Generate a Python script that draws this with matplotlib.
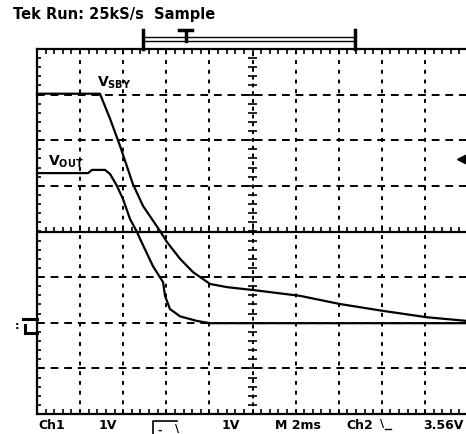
import numpy as np
import matplotlib
matplotlib.use("Agg")
import matplotlib.pyplot as plt

# scope settings (1 V/div, 2 ms/div, 10 x 8 divisions)
ms_per_div = 2.0
v_per_div = 1.0

# traces (time in ms, voltage in V relative to centre)
sby_t = [0.0, 2.92, 3.39, 3.85, 4.45, 4.92, 5.71, 6.03, 6.64, 7.24, 8.03,
         8.82, 9.98, 12.2, 14.06, 16.06, 18.1, 19.95]
sby_v = [3.02, 3.02, 2.47, 1.88, 1.04, 0.56, 0.01, -0.23, -0.60, -0.89, -1.15,
         -1.22, -1.28, -1.41, -1.59, -1.74, -1.88, -1.96]

out_t = [0.0, 2.37, 2.55, 3.16, 3.39, 3.71, 3.99, 4.32, 4.64, 4.78, 5.38,
         5.85, 5.94, 6.17, 6.64, 7.42, 8.03, 19.95]
out_v = [1.28, 1.28, 1.35, 1.35, 1.26, 1.00, 0.71, 0.27, -0.01, -0.16, -0.76,
         -1.11, -1.41, -1.70, -1.86, -1.96, -2.01, -2.01]

bottom_labels = ["Ch1", "1V", "1V", "M 2ms", "Ch2", "3.56V"]
bottom_label_x = [0.0, 2.8, 8.5, 11.0, 14.3, 17.85]

fig = plt.figure(figsize=(4.66, 4.35), dpi=100)
ax = fig.add_axes([37 / 466, 20 / 435, 431 / 466, 365 / 435])
ax.set_xlim(0, 10 * ms_per_div)
ax.set_ylim(-4 * v_per_div, 4 * v_per_div)
ax.axis("off")

k = "black"
# graticule
for i in range(1, 10):
    if i == 5:
        continue
    ax.axvline(i * ms_per_div, color=k, lw=1.4, ls=(0, (2, 3)))
for j in range(-3, 4):
    if j == 0:
        continue
    ax.axhline(j * v_per_div, color=k, lw=1.4, ls=(0, (4, 3)))

# borders and centre lines
ax.axhline(4, color=k, lw=1.6, clip_on=False)
ax.axhline(-4, color=k, lw=1.6, clip_on=False)
ax.axvline(0, color=k, lw=1.6, clip_on=False)
ax.axhline(0, color=k, lw=1.6)
ax.axvline(10, color=k, lw=1.4, ls=(0, (2, 2)))

minor_x = np.arange(0, 20.01, 0.4)
minor_y = np.arange(-4, 4.01, 0.2)
ax.vlines(minor_x, 3.9, 4, color=k, lw=1.2, clip_on=False)
ax.vlines(minor_x, -4, -3.9, color=k, lw=1.2, clip_on=False)
ax.vlines(minor_x, 0, 0.1, color=k, lw=1.2)
ax.hlines(minor_y, 0, 0.2, color=k, lw=1.2, clip_on=False)
ax.hlines(minor_y, 9.8, 10.2, color=k, lw=1.2)

# traces
ax.plot(sby_t, sby_v, color=k, lw=1.6, clip_on=False)
ax.plot(out_t, out_v, color=k, lw=1.6, clip_on=False)

ax.text(2.8, 3.1, r"$\mathbf{V_{SBY}}$", fontsize=10, ha="left", va="bottom")
ax.text(0.5, 1.37, r"$\mathbf{V_{OUT}}$", fontsize=10, ha="left", va="bottom")

# trigger position bar above the screen
ax.plot([4.93, 14.75], [4.27, 4.27], color=k, lw=1.0, clip_on=False)
ax.plot([4.93, 14.75], [4.18, 4.18], color=k, lw=1.0, clip_on=False)
ax.plot([4.93, 4.93], [4.0, 4.42], color=k, lw=2.5, clip_on=False)
ax.plot([14.75, 14.75], [4.0, 4.42], color=k, lw=2.5, clip_on=False)
ax.plot([6.9, 6.9], [4.18, 4.4], color=k, lw=2.5, clip_on=False)
ax.plot([6.6, 7.2], [4.42, 4.42], color=k, lw=2.5, clip_on=False)

# channel markers
ax.plot([19.7], [1.6], marker="<", ms=7, color=k, clip_on=False)
ax.plot([-0.65, 0.0], [-1.92, -1.92], color=k, lw=2.2, clip_on=False)
ax.plot([-0.55, 0.0], [-2.22, -2.22], color=k, lw=2.2, clip_on=False)
ax.plot([-0.55, -0.55], [-2.05, -2.22], color=k, lw=2.2, clip_on=False)
ax.text(-0.95, -2.05, ":", fontsize=8, fontweight="bold", ha="center", va="center")

fig.text(13 / 466, 1 - 15 / 435, "Tek Run: 25kS/s  Sample", fontsize=10.5,
         fontweight="bold", ha="left", va="center")

for lab, xv in zip(bottom_labels, bottom_label_x):
    ax.text(xv + 0.05, -4.22, lab, fontsize=9, fontweight="bold",
            ha="left", va="center")

# coupling box symbol and trigger slope symbol
ax.plot([5.4, 5.4, 6.5], [-4.75, -4.15, -4.15], color=k, lw=1.2, clip_on=False)
ax.text(5.6, -4.35, "-", fontsize=8, fontweight="bold", va="center")
ax.text(6.4, -4.3, "\\", fontsize=8, fontweight="bold", va="center")
ax.text(15.9, -4.2, "\\", fontsize=8, fontweight="bold", va="center")
ax.plot([16.15, 16.45], [-4.33, -4.33], color=k, lw=1.0, clip_on=False)

fig.savefig("out.png", dpi=100)
